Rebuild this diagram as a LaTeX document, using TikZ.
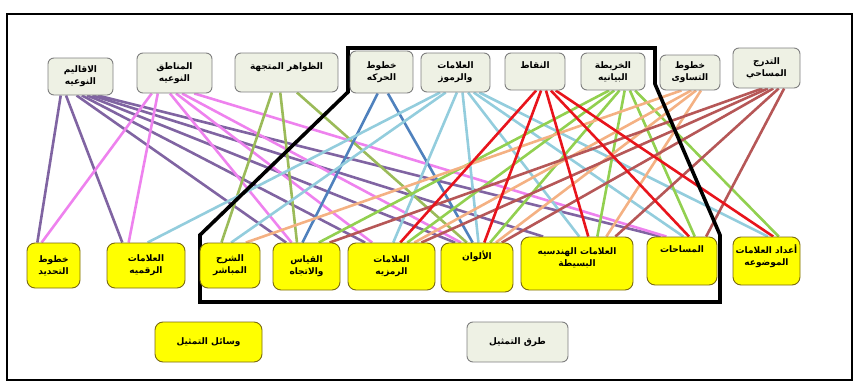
\documentclass[tikz,border=0pt]{standalone}
\usepackage{fontspec}
\usepackage{tikz}
\usetikzlibrary{backgrounds, calc}
\newfontfamily\arabicfont[Script=Arabic]{DejaVu Sans}
\TeXXeTstate=1
\definecolor{mapsage}{HTML}{EEF1E4}
\definecolor{mapedge}{HTML}{7F7F7F}
\definecolor{mapyellow}{HTML}{FFFF00}
\definecolor{mapolive}{HTML}{7A6A10}
\definecolor{lnpurple}{HTML}{8064A2}
\definecolor{lnpink}{HTML}{EE82EE}
\definecolor{lnolive}{HTML}{9BBB59}
\definecolor{lnblue}{HTML}{4F81BD}
\definecolor{lnsky}{HTML}{93CDDD}
\definecolor{lnred}{HTML}{E8141C}
\definecolor{lngreen}{HTML}{92D050}
\definecolor{lnpeach}{HTML}{F4B183}
\definecolor{lnbrown}{HTML}{B65757}
\newcommand{\rl}[1]{\beginR #1\endR}
\newcommand{\linkfan}[4]{%
  \foreach \b/\j in {#3}
    \draw[link, #2] ($(#1.south west)!{0.12+0.08*\j}!(#1.south east)$)
      -- ($(\b.north west)!{0.12+0.08*#4}!(\b.north east)$);}
\tikzset{
  topbox/.style={draw=mapedge, fill=mapsage, rounded corners=6pt, line width=0.9pt,
                 align=center, inner sep=2pt, font=\arabicfont\bfseries\fontsize{9}{12}\selectfont},
  botbox/.style={draw=mapolive, fill=mapyellow, rounded corners=8pt, line width=0.9pt,
                 align=center, inner sep=2pt, font=\arabicfont\bfseries\fontsize{9}{12}\selectfont},
  link/.style={line width=2.6pt},
  frame/.style={line width=3.6pt, line join=miter}
}
\begin{document}
\begin{tikzpicture}[x=1pt, y=-1pt]
    \useasboundingbox (0,0) rectangle (855,383);
    \node[topbox, minimum width=65, minimum height=37] (regions) at (80.5,76.5) {\rl{الاقاليم}\\\rl{النوعيه}};
    \node[topbox, minimum width=75, minimum height=40] (zones) at (174.5,73) {\rl{المناطق}\\\rl{النوعيه}};
    \node[topbox, minimum width=103, minimum height=39] (vectors) at (286.5,72.5) {\rl{الظواهر المتجهة}\\~};
    \node[topbox, minimum width=63, minimum height=42] (flows) at (381.5,72) {\rl{خطوط}\\\rl{الحركه}};
    \node[topbox, minimum width=69, minimum height=39] (symbols) at (455.5,72.5) {\rl{العلامات}\\\rl{والرموز}};
    \node[topbox, minimum width=60, minimum height=37] (points) at (535,71.5) {\rl{النقاط}\\~};
    \node[topbox, minimum width=64, minimum height=37] (chart) at (613,71.5) {\rl{الخريطة}\\\rl{البيانيه}};
    \node[topbox, minimum width=60, minimum height=35] (iso) at (690,72.5) {\rl{خطوط}\\\rl{التساوى}};
    \node[topbox, minimum width=67, minimum height=40] (grad) at (766.5,68) {\rl{التدرج}\\\rl{المساحي}};

    \node[botbox, minimum width=53, minimum height=45] (bounds) at (53.5,265.5) {\rl{خطوط}\\\rl{التحديد}};
    \node[botbox, minimum width=78, minimum height=45] (numeric) at (146,265.5) {\rl{العلامات}\\\rl{الرقميه}};
    \node[botbox, minimum width=60, minimum height=45] (direct) at (230,265.5) {\rl{الشرح}\\\rl{المباشر}};
    \node[botbox, minimum width=67, minimum height=47] (measure) at (306.5,266.5) {\rl{القياس}\\\rl{والاتجاه}};
    \node[botbox, minimum width=87, minimum height=47] (symbolic) at (391.5,266.5) {\rl{العلامات}\\\rl{الرمزيه}};
    \node[botbox, minimum width=72, minimum height=49] (colours) at (477,267.5) {\rl{الألوان}\\~\\~};
    \node[botbox, minimum width=112, minimum height=53] (geometric) at (577,263.5) {\rl{العلامات الهندسيه}\\\rl{البسيطة}\\~};
    \node[botbox, minimum width=70, minimum height=48] (areas) at (682,261) {\rl{المساحات}\\~\\~};
    \node[botbox, minimum width=67, minimum height=48] (counts) at (766.5,261) {\rl{أعداد العلامات}\\\rl{الموضوعه}\\~};

    \node[botbox, minimum width=107, minimum height=40] (means) at (208.5,342) {\rl{وسائل التمثيل}};
    \node[topbox, minimum width=101, minimum height=40] (methods) at (517.5,342) {\rl{طرق التمثيل}};

    \begin{scope}[on background layer]
    \linkfan{regions}{lnpurple}{bounds/1,numeric/2,measure/4,symbolic/5,colours/6,geometric/7,areas/8}{1}
    \linkfan{zones}{lnpink}{bounds/1,numeric/2,measure/4,symbolic/5,colours/6,areas/8}{2}
    \linkfan{vectors}{lnolive}{direct/3,measure/4,colours/6}{3}
    \linkfan{flows}{lnblue}{measure/4,colours/6}{4}
    \linkfan{symbols}{lnsky}{numeric/2,direct/3,symbolic/5,colours/6,geometric/7,areas/8,counts/9}{5}
    \linkfan{chart}{lngreen}{measure/4,symbolic/5,colours/6,geometric/7,areas/8,counts/9}{7}
    \linkfan{iso}{lnpeach}{direct/3,symbolic/5,colours/6,geometric/7}{8}
    \linkfan{grad}{lnbrown}{measure/4,symbolic/5,colours/6,geometric/7,areas/8}{9}
    \linkfan{points}{lnred}{symbolic/5,colours/6,geometric/7,areas/8,counts/9}{6}
    \draw[frame] (348,48) -- (655,48) -- (655,84) -- (720,235) -- (720,302)
                 -- (200,302) -- (200,235) -- (348,92) -- cycle;
    \end{scope}
    \draw[line width=1.6pt] (7,14) rectangle (852,380);
  \end{tikzpicture}
\end{document}
